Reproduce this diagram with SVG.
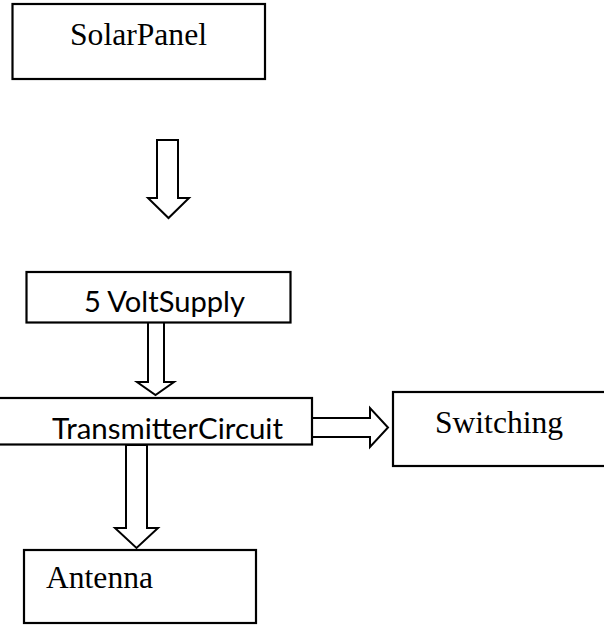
<svg xmlns="http://www.w3.org/2000/svg" width="604" height="629" viewBox="0 0 604 629">
<style>
.box{fill:#fff;stroke:#000;stroke-width:2.2}
.arr{fill:#fff;stroke:#000;stroke-width:2;stroke-linejoin:miter}
.serif{font-family:"Liberation Serif","Times New Roman",serif;font-size:31.5px;fill:#000}
.sans{font-family:Lato,"Open Sans",sans-serif;font-size:28px;fill:#000}
</style>
<rect width="604" height="629" fill="#fff"/>
<g id="connectors">
<polygon class="arr" points="157,140 178,140 178,198 189,198 168.5,218 148,198 157,198"/>
<polygon class="arr" points="148,322 164,322 164,382 174,382 155.5,395 137,382 148,382"/>
<polygon class="arr" points="312,418 370,418 370,408 388,427.5 370,447 370,437 312,437"/>
<polygon class="arr" points="126,445 147,445 147,528 158,528 136.5,548 115,528 126,528"/>
</g>
<g id="solar-panel">
<rect class="box" x="12.5" y="4" width="252.5" height="75"/>
<text class="serif" x="70" y="45" textLength="137" lengthAdjust="spacingAndGlyphs">SolarPanel</text>
</g>
<g id="volt-supply">
<rect class="box" x="26.5" y="272" width="264" height="50.5"/>
<text class="sans" x="84" y="311.5" textLength="161" lengthAdjust="spacingAndGlyphs">5 VoltSupply</text>
</g>
<g id="transmitter-circuit">
<rect class="box" x="-5" y="398" width="317" height="46.5"/>
<text class="sans" x="52" y="438.5" textLength="231" lengthAdjust="spacingAndGlyphs">TransmitterCircuit</text>
</g>
<g id="switching">
<rect class="box" x="393" y="392" width="220" height="74"/>
<text class="serif" x="435" y="433" textLength="128" lengthAdjust="spacingAndGlyphs">Switching</text>
</g>
<g id="antenna">
<rect class="box" x="24" y="550" width="232" height="73"/>
<text class="serif" x="46" y="588" textLength="107" lengthAdjust="spacingAndGlyphs">Antenna</text>
</g>
</svg>
